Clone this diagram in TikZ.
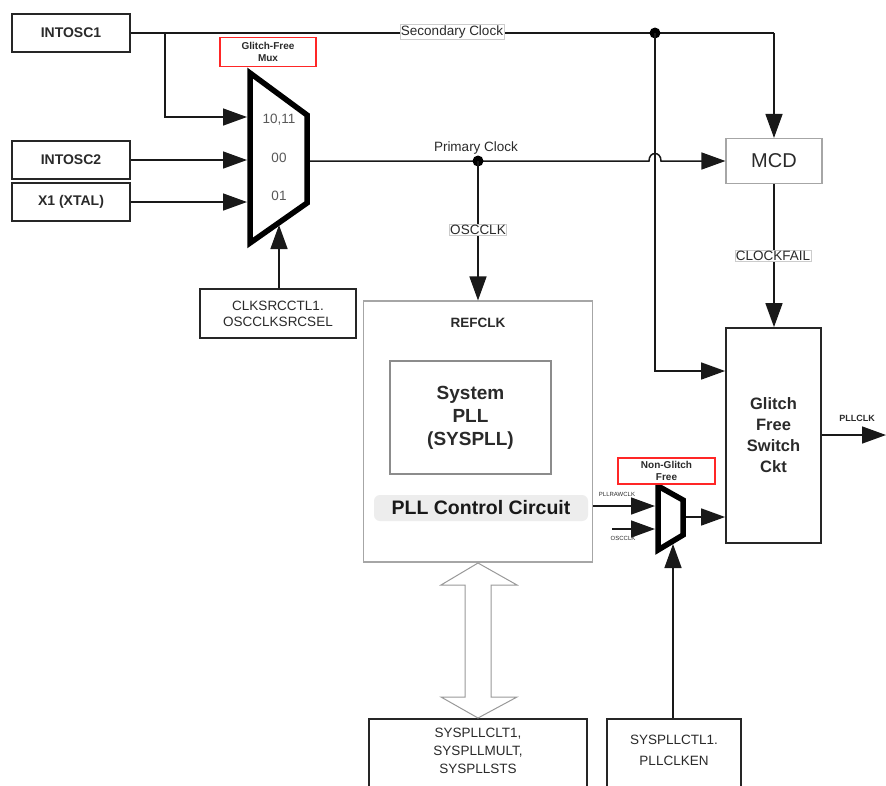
\documentclass[tikz,border=0pt]{standalone}
\usepackage{fontspec}
\setmainfont{Liberation Sans}
\usetikzlibrary{arrows.meta}
\definecolor{txt}{HTML}{2A2A2A}
\newcommand\fsz[2]{\fontsize{#1}{#2}\selectfont}
\tikzset{
  blk/.style={draw=black!85, line width=1.6pt, fill=white, text=txt, font=\bfseries\fsz{14}{16}, inner sep=0pt},
  gbox/.style={draw=black!35, line width=1.1pt, fill=white, inner sep=0pt},
  redbox/.style={draw=red!85, line width=1.3pt, fill=white, text=txt, font=\bfseries\fsz{10}{11.5}, align=center, inner sep=0pt},
  conn/.style={line width=1.5pt, draw=black!90},
  arr/.style={conn, -{Triangle[length=24pt,width=17pt]}},
  muxline/.style={line width=5.5pt, draw=black, line join=miter, fill=white},
  lab/.style={text=txt, font=\fsz{13.5}{15}},
  tag/.style={fill=white, draw=black!20, line width=0.6pt, text=txt, font=\fsz{13.5}{15}, inner sep=1pt},
  dot/.style={circle, fill=black, inner sep=0pt, minimum size=11pt},
}
\begin{document}
\begin{tikzpicture}[x=1pt,y=-1pt]
\useasboundingbox (0,0) rectangle (886,785);
\clip (0,0) rectangle (886,785);

% source boxes
\node[blk, minimum width=118pt, minimum height=38pt] (intosc1) at (71,33) {INTOSC1};
\node[blk, minimum width=118pt, minimum height=38pt] (intosc2) at (71,160) {INTOSC2};
\node[blk, minimum width=118pt, minimum height=38pt] (xtal) at (71,202) {X1 (XTAL)};

% glitch-free mux
\draw[muxline] (250,73) -- (307,115) -- (307,203) -- (250,243) -- cycle;
\coordinate (m1) at (247,117);
\coordinate (m2) at (247,160);
\coordinate (m3) at (247,202);
\coordinate (mout) at (310,161);
\coordinate (mbot) at (279,225);
\node[lab, text=black!65] (l1011) at (279,120) {10,11};
\node[lab, text=black!65] (l00) at (279,158) {00};
\node[lab, text=black!65] (l01) at (279,196) {01};
\node[redbox, minimum width=96pt, minimum height=29pt] (gfm) at (268,52) {Glitch-Free\\Mux};

% control box for mux
\node[draw=black!85, line width=1.6pt, fill=white, text=txt, font=\fsz{13.5}{16}, align=center,
      minimum width=156pt, minimum height=49pt, inner sep=0pt] (clksrc) at (278,313.5) {CLKSRCCTL1.\\OSCCLKSRCSEL};
\draw[arr] (clksrc.north -| mbot) -- (mbot);

% REFCLK box
\node[gbox, minimum width=229pt, minimum height=261pt] (refclk) at (478,431.5) {};
\node[text=txt, font=\bfseries\fsz{13.5}{15}] (reflab) at (478,323) {REFCLK};
\node[gbox, draw=black!45, minimum width=161pt, minimum height=113pt, text=txt, font=\bfseries\fsz{19}{23}, align=center] (syspll) at (470.5,417.5) {System\\PLL\\(SYSPLL)};
\node[fill=black!7, rounded corners=6pt, minimum width=214pt, minimum height=26pt, inner sep=0pt] (glow) at (481,508) {};
\node[text=black!90, font=\bfseries\fsz{19.5}{22}] (pllcc) at (481,508) {PLL Control Circuit};

% MCD
\node[gbox, minimum width=96pt, minimum height=45pt, text=txt, font=\fsz{20}{22}] (mcd) at (774,161) {MCD};

% glitch free switch
\node[draw=black!85, line width=1.8pt, fill=white, minimum width=95pt, minimum height=215pt, text=txt,
      font=\bfseries\fsz{16.5}{21}, align=center, inner sep=0pt] (gfs) at (773.5,435.5) {Glitch\\Free\\Switch\\Ckt};

% secondary clock
\coordinate (j1) at (165,33);
\coordinate (sdot) at (655,33);
\coordinate (scorner) at (sdot -| mcd.north);
\draw[conn] (intosc1.east) -- (sdot) -- (scorner);
\node[tag] (seclab) at (452,32) {Secondary Clock};
\draw[arr] (scorner) -- (mcd.north);
\draw[arr] (j1) |- (m1);
\node[dot] (sdotn) at (sdot) {};

% inputs
\draw[arr] (intosc2.east |- m2) -- (m2);
\draw[arr] (xtal.east |- m3) -- (m3);

% vertical from secondary dot to glitch-free switch
\coordinate (vcorner) at (655,371);
\draw[arr] (sdot) -- (vcorner) -- (gfs.west |- vcorner);

% primary clock with hop
\coordinate (pdot) at (478,161);
\draw[arr] (mout) -- (649,161) .. controls (649,151) and (661,151) .. (661,161) -- (mcd.west);
\node[dot] (pdotn) at (pdot) {};
\node[lab] (primlab) at (476,148) {Primary Clock};
\draw[arr] (pdot) -- (refclk.north);
\node[tag] (oscclklab) at (478,230) {OSCCLK};

% clockfail
\draw[arr] (mcd.south) -- (gfs.north -| mcd.south);
\node[tag] (cflab) at (773,256) {CLOCKFAIL};

% small mux
\draw[muxline] (658,486) -- (683,500) -- (683,535) -- (658,550) -- cycle;
\coordinate (s1) at (655,506);
\coordinate (s2) at (655,529);
\coordinate (sout) at (686,517);
\coordinate (sbot) at (673,544);
\node[redbox, minimum width=97pt, minimum height=26pt] (ngf) at (666.5,471) {Non-Glitch\\Free};
\draw[arr] (refclk.east |- s1) -- (s1);
\coordinate (oscin) at (612,529);
\draw[arr] (oscin) -- (s2);
\node[text=txt, font=\fsz{6}{7}] (rawlab) at (617,494) {PLLRAWCLK};
\node[text=txt, font=\fsz{6}{7}] (osclab2) at (623,538) {OSCCLK};
\draw[arr] (sout) -- (gfs.west |- sout);

% output
\coordinate (pllout) at (886,435);
\draw[arr] (gfs.east |- pllout) -- (pllout);
\node[text=txt, font=\bfseries\fsz{9}{10}] (pllclklab) at (857,418) {PLLCLK};

% bottom register boxes
\node[draw=black!85, line width=1.6pt, fill=white, minimum width=218pt, minimum height=90pt, anchor=north] (sysregs) at (478,718) {};
\node[text=txt, font=\fsz{13.5}{18}, align=center, anchor=north] (sysregtxt) at (478,725) {SYSPLLCLT1,\\SYSPLLMULT,\\SYSPLLSTS};
\node[draw=black!85, line width=1.6pt, fill=white, minimum width=134pt, minimum height=90pt, anchor=north] (pllclken) at (674,718) {};
\node[text=txt, font=\fsz{13.5}{21}, align=center, anchor=north] (pllclkentxt) at (674,732) {SYSPLLCTL1.\\PLLCLKEN};
\draw[arr] (pllclken.north -| sbot) -- (sbot);

% hollow double arrow
\draw[draw=black!40, line width=1pt, fill=white]
  (478,563) -- (517,585) -- (491,585) -- (491,697) -- (517,697) -- (478,718)
  -- (441,697) -- (465,697) -- (465,585) -- (441,585) -- cycle;
\end{tikzpicture}
\end{document}
